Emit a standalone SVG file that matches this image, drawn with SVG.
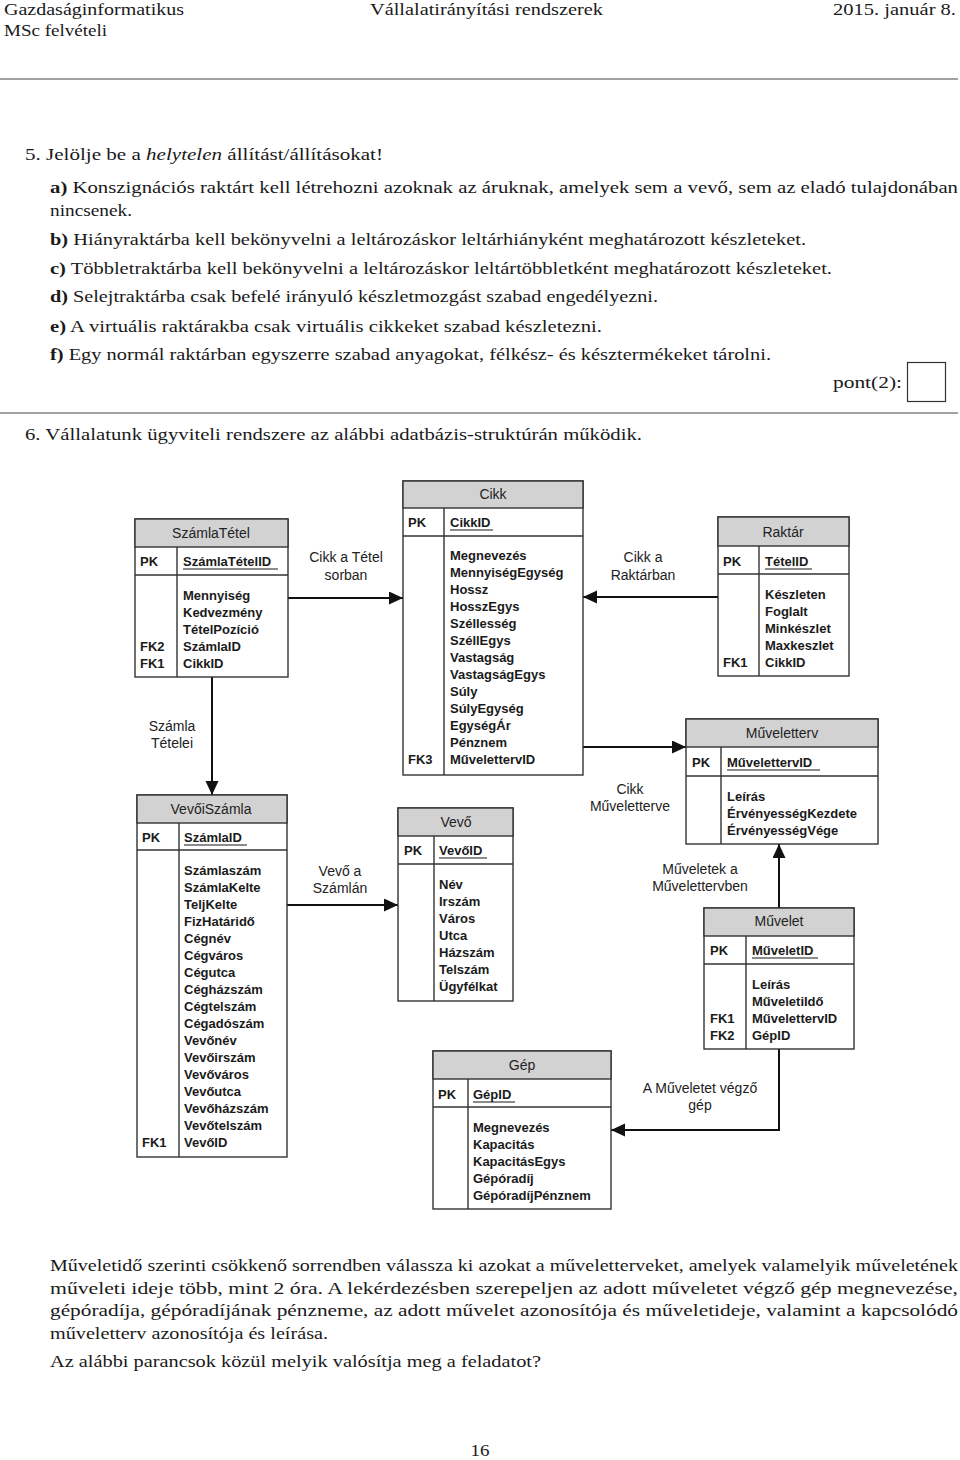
<svg xmlns="http://www.w3.org/2000/svg" width="960" height="1460" viewBox="0 0 960 1460">
<style>
.p{font-family:"Liberation Serif","Times New Roman",serif;font-size:17px;fill:#1a1a1a}
.b{font-weight:bold}
.i{font-style:italic}
.t{font-family:"Liberation Sans",Arial,sans-serif;font-size:14px;fill:#222}
.f{font-family:"Liberation Sans",Arial,sans-serif;font-size:13px;font-weight:bold;fill:#1a1a1a}
.mid{text-anchor:middle}
.box{fill:#fff;stroke:#333;stroke-width:1.4}
.hdr{fill:#d2d2d2;stroke:#333;stroke-width:1.4}
.ln{stroke:#333;stroke-width:1.4;fill:none}
.ul{stroke:#1a1a1a;stroke-width:1.2}
.con{stroke:#111;stroke-width:2;fill:none;marker-end:url(#arr)}
.rule{stroke:#444;stroke-width:1.2}
</style>
<defs>
<marker id="arr" markerUnits="userSpaceOnUse" markerWidth="15" markerHeight="14" refX="14" refY="6.5" orient="auto">
<path d="M0,0 L14,6.5 L0,13 z" fill="#111"/>
</marker>
</defs>
<rect width="960" height="1460" fill="#fff"/>

<g id="page-header">
<text class="p" x="4" y="15" textLength="180" lengthAdjust="spacingAndGlyphs">Gazdaságinformatikus</text>
<text class="p" x="4" y="36" textLength="103" lengthAdjust="spacingAndGlyphs">MSc felvételi</text>
<text class="p" x="370" y="15" textLength="233" lengthAdjust="spacingAndGlyphs">Vállalatirányítási rendszerek</text>
<text class="p" x="833" y="15" textLength="123" lengthAdjust="spacingAndGlyphs">2015. január 8.</text>
<line class="rule" x1="0" y1="79" x2="958" y2="79"/>
</g>

<g id="question5">
<text class="p" x="25" y="160" textLength="358" lengthAdjust="spacingAndGlyphs">5. Jelölje be a <tspan class="i">helytelen</tspan> állítást/állításokat!</text>
<text class="p" x="50" y="193" textLength="908" lengthAdjust="spacingAndGlyphs"><tspan class="b">a)</tspan> Konszignációs raktárt kell létrehozni azoknak az áruknak, amelyek sem a vevő, sem az eladó tulajdonában</text>
<text class="p" x="50" y="216" textLength="82" lengthAdjust="spacingAndGlyphs">nincsenek.</text>
<text class="p" x="50" y="245" textLength="756" lengthAdjust="spacingAndGlyphs"><tspan class="b">b)</tspan> Hiányraktárba kell bekönyvelni a leltározáskor leltárhiányként meghatározott készleteket.</text>
<text class="p" x="50" y="274" textLength="782" lengthAdjust="spacingAndGlyphs"><tspan class="b">c)</tspan> Többletraktárba kell bekönyvelni a leltározáskor leltártöbbletként meghatározott készleteket.</text>
<text class="p" x="50" y="302" textLength="608" lengthAdjust="spacingAndGlyphs"><tspan class="b">d)</tspan> Selejtraktárba csak befelé irányuló készletmozgást szabad engedélyezni.</text>
<text class="p" x="50" y="332" textLength="552" lengthAdjust="spacingAndGlyphs"><tspan class="b">e)</tspan> A virtuális raktárakba csak virtuális cikkeket szabad készletezni.</text>
<text class="p" x="50" y="360" textLength="721" lengthAdjust="spacingAndGlyphs"><tspan class="b">f)</tspan> Egy normál raktárban egyszerre szabad anyagokat, félkész- és késztermékeket tárolni.</text>
<text class="p" x="833" y="388" textLength="69" lengthAdjust="spacingAndGlyphs">pont(2):</text>
<rect x="907.5" y="362.5" width="38" height="39" fill="none" stroke="#333" stroke-width="1.2"/>
<line class="rule" x1="0" y1="413" x2="958" y2="413"/>
<text class="p" x="25" y="440" textLength="617" lengthAdjust="spacingAndGlyphs">6. Vállalatunk ügyviteli rendszere az alábbi adatbázis-struktúrán működik.</text>
</g>

<g id="connectors">
<line class="con" x1="288" y1="598" x2="403" y2="598"/>
<line class="con" x1="718" y1="597" x2="583" y2="597"/>
<line class="con" x1="212" y1="677" x2="212" y2="795"/>
<line class="con" x1="583" y1="747" x2="686" y2="747"/>
<line class="con" x1="287" y1="905" x2="398" y2="905"/>
<line class="con" x1="779" y1="908" x2="779" y2="844"/>
<path class="con" d="M779,1049 V1130 H611"/>
<text class="t mid" x="346" y="562">Cikk a Tétel</text>
<text class="t mid" x="346" y="580">sorban</text>
<text class="t mid" x="643" y="562">Cikk a</text>
<text class="t mid" x="643" y="580">Raktárban</text>
<text class="t mid" x="172" y="731">Számla</text>
<text class="t mid" x="172" y="748">Tételei</text>
<text class="t mid" x="630" y="794">Cikk</text>
<text class="t mid" x="630" y="811">Műveletterve</text>
<text class="t mid" x="340" y="876">Vevő a</text>
<text class="t mid" x="340" y="893">Számlán</text>
<text class="t mid" x="700" y="874">Műveletek a</text>
<text class="t mid" x="700" y="891">Művelettervben</text>
<text class="t mid" x="700" y="1093">A Műveletet végző</text>
<text class="t mid" x="700" y="1110">gép</text>
</g>

<g id="SzamlaTetel">
<rect class="box" x="135" y="519" width="153" height="158"/>
<rect class="hdr" x="135" y="519" width="153" height="28"/>
<line class="ln" x1="135" y1="575" x2="288" y2="575"/>
<line class="ln" x1="177" y1="547" x2="177" y2="677"/>
<text class="t mid" x="211" y="538">SzámlaTétel</text>
<text class="f" x="140" y="566">PK</text>
<text class="f" x="183" y="566">SzámlaTételID</text>
<line class="ul" x1="183" y1="569" x2="278" y2="569"/>
<text class="f" x="183" y="600">Mennyiség</text>
<text class="f" x="183" y="617">Kedvezmény</text>
<text class="f" x="183" y="634">TételPozíció</text>
<text class="f" x="140" y="651">FK2</text>
<text class="f" x="183" y="651">SzámlaID</text>
<text class="f" x="140" y="668">FK1</text>
<text class="f" x="183" y="668">CikkID</text>
</g>

<g id="Cikk">
<rect class="box" x="403" y="481" width="180" height="294"/>
<rect class="hdr" x="403" y="481" width="180" height="27"/>
<line class="ln" x1="403" y1="536" x2="583" y2="536"/>
<line class="ln" x1="444" y1="508" x2="444" y2="775"/>
<text class="t mid" x="493" y="499">Cikk</text>
<text class="f" x="408" y="527">PK</text>
<text class="f" x="450" y="527">CikkID</text>
<line class="ul" x1="450" y1="530" x2="493" y2="530"/>
<text class="f" x="450" y="560">Megnevezés</text>
<text class="f" x="450" y="577">MennyiségEgység</text>
<text class="f" x="450" y="594">Hossz</text>
<text class="f" x="450" y="611">HosszEgys</text>
<text class="f" x="450" y="628">Széllesség</text>
<text class="f" x="450" y="645">SzéllEgys</text>
<text class="f" x="450" y="662">Vastagság</text>
<text class="f" x="450" y="679">VastagságEgys</text>
<text class="f" x="450" y="696">Súly</text>
<text class="f" x="450" y="713">SúlyEgység</text>
<text class="f" x="450" y="730">EgységÁr</text>
<text class="f" x="450" y="747">Pénznem</text>
<text class="f" x="408" y="764">FK3</text>
<text class="f" x="450" y="764">Műveletter&#118;ID</text>
</g>

<g id="Raktar">
<rect class="box" x="718" y="517" width="131" height="159"/>
<rect class="hdr" x="718" y="517" width="131" height="29"/>
<line class="ln" x1="718" y1="574" x2="849" y2="574"/>
<line class="ln" x1="759" y1="546" x2="759" y2="676"/>
<text class="t mid" x="783" y="537">Raktár</text>
<text class="f" x="723" y="566">PK</text>
<text class="f" x="765" y="566">TételID</text>
<line class="ul" x1="765" y1="569" x2="812" y2="569"/>
<text class="f" x="765" y="599">Készleten</text>
<text class="f" x="765" y="616">Foglalt</text>
<text class="f" x="765" y="633">Minkészlet</text>
<text class="f" x="765" y="650">Maxkeszlet</text>
<text class="f" x="723" y="667">FK1</text>
<text class="f" x="765" y="667">CikkID</text>
</g>

<g id="Muveletterv">
<rect class="box" x="686" y="719" width="192" height="125"/>
<rect class="hdr" x="686" y="719" width="192" height="28"/>
<line class="ln" x1="686" y1="776" x2="878" y2="776"/>
<line class="ln" x1="721" y1="747" x2="721" y2="844"/>
<text class="t mid" x="782" y="738">Műveletterv</text>
<text class="f" x="692" y="767">PK</text>
<text class="f" x="727" y="767">Műveletter&#118;ID</text>
<line class="ul" x1="727" y1="770" x2="820" y2="770"/>
<text class="f" x="727" y="801">Leírás</text>
<text class="f" x="727" y="818">ÉrvényességKezdete</text>
<text class="f" x="727" y="835">ÉrvényességVége</text>
</g>

<g id="Muvelet">
<rect class="box" x="704" y="908" width="150" height="141"/>
<rect class="hdr" x="704" y="908" width="150" height="28"/>
<line class="ln" x1="704" y1="964" x2="854" y2="964"/>
<line class="ln" x1="746" y1="936" x2="746" y2="1049"/>
<text class="t mid" x="779" y="926">Művelet</text>
<text class="f" x="710" y="955">PK</text>
<text class="f" x="752" y="955">MűveletID</text>
<line class="ul" x1="752" y1="958" x2="818" y2="958"/>
<text class="f" x="752" y="989">Leírás</text>
<text class="f" x="752" y="1006">MűveletiIdő</text>
<text class="f" x="710" y="1023">FK1</text>
<text class="f" x="752" y="1023">Műveletter&#118;ID</text>
<text class="f" x="710" y="1040">FK2</text>
<text class="f" x="752" y="1040">GépID</text>
</g>

<g id="VevoiSzamla">
<rect class="box" x="137" y="795" width="150" height="362"/>
<rect class="hdr" x="137" y="795" width="150" height="28"/>
<line class="ln" x1="137" y1="850" x2="287" y2="850"/>
<line class="ln" x1="179" y1="823" x2="179" y2="1157"/>
<text class="t mid" x="211" y="814">VevőiSzámla</text>
<text class="f" x="142" y="842">PK</text>
<text class="f" x="184" y="842">SzámlaID</text>
<line class="ul" x1="184" y1="845" x2="247" y2="845"/>
<text class="f" x="184" y="875">Számlaszám</text>
<text class="f" x="184" y="892">SzámlaKelte</text>
<text class="f" x="184" y="909">TeljKelte</text>
<text class="f" x="184" y="926">FizHatáridő</text>
<text class="f" x="184" y="943">Cégnév</text>
<text class="f" x="184" y="960">Cégváros</text>
<text class="f" x="184" y="977">Cégutca</text>
<text class="f" x="184" y="994">Cégházszám</text>
<text class="f" x="184" y="1011">Cégtelszám</text>
<text class="f" x="184" y="1028">Cégadószám</text>
<text class="f" x="184" y="1045">Vevőnév</text>
<text class="f" x="184" y="1062">Vevőirszám</text>
<text class="f" x="184" y="1079">Vevőváros</text>
<text class="f" x="184" y="1096">Vevőutca</text>
<text class="f" x="184" y="1113">Vevőházszám</text>
<text class="f" x="184" y="1130">Vevőtelszám</text>
<text class="f" x="142" y="1147">FK1</text>
<text class="f" x="184" y="1147">VevőID</text>
</g>

<g id="Vevo">
<rect class="box" x="398" y="808" width="115" height="193"/>
<rect class="hdr" x="398" y="808" width="115" height="28"/>
<line class="ln" x1="398" y1="864" x2="513" y2="864"/>
<line class="ln" x1="434" y1="836" x2="434" y2="1001"/>
<text class="t mid" x="456" y="827">Vevő</text>
<text class="f" x="404" y="855">PK</text>
<text class="f" x="439" y="855">VevőID</text>
<line class="ul" x1="439" y1="858" x2="487" y2="858"/>
<text class="f" x="439" y="889">Név</text>
<text class="f" x="439" y="906">Irszám</text>
<text class="f" x="439" y="923">Város</text>
<text class="f" x="439" y="940">Utca</text>
<text class="f" x="439" y="957">Házszám</text>
<text class="f" x="439" y="974">Telszám</text>
<text class="f" x="439" y="991">Ügyfélkat</text>
</g>

<g id="Gep">
<rect class="box" x="433" y="1051" width="178" height="158"/>
<rect class="hdr" x="433" y="1051" width="178" height="28"/>
<line class="ln" x1="433" y1="1107" x2="611" y2="1107"/>
<line class="ln" x1="468" y1="1079" x2="468" y2="1209"/>
<text class="t mid" x="522" y="1070">Gép</text>
<text class="f" x="438" y="1099">PK</text>
<text class="f" x="473" y="1099">GépID</text>
<line class="ul" x1="473" y1="1102" x2="515" y2="1102"/>
<text class="f" x="473" y="1132">Megnevezés</text>
<text class="f" x="473" y="1149">Kapacitás</text>
<text class="f" x="473" y="1166">KapacitásEgys</text>
<text class="f" x="473" y="1183">Gépóradíj</text>
<text class="f" x="473" y="1200">GépóradíjPénznem</text>
</g>

<g id="task-text">
<text class="p" x="50" y="1271" textLength="908" lengthAdjust="spacingAndGlyphs">Műveletidő szerinti csökkenő sorrendben válassza ki azokat a műveletterveket, amelyek valamelyik műveletének</text>
<text class="p" x="50" y="1294" textLength="908" lengthAdjust="spacingAndGlyphs">műveleti ideje több, mint 2 óra.  A lekérdezésben szerepeljen az adott műveletet végző gép megnevezése,</text>
<text class="p" x="50" y="1316" textLength="908" lengthAdjust="spacingAndGlyphs">gépóradíja, gépóradíjának pénzneme, az adott művelet azonosítója és műveletideje, valamint a kapcsolódó</text>
<text class="p" x="50" y="1339" textLength="278" lengthAdjust="spacingAndGlyphs">műveletterv azonosítója és leírása.</text>
<text class="p" x="50" y="1367" textLength="491" lengthAdjust="spacingAndGlyphs">Az alábbi parancsok közül melyik valósítja meg a feladatot?</text>
<text class="p" x="480" y="1456" textLength="19" lengthAdjust="spacingAndGlyphs" text-anchor="middle">16</text>
</g>
</svg>
